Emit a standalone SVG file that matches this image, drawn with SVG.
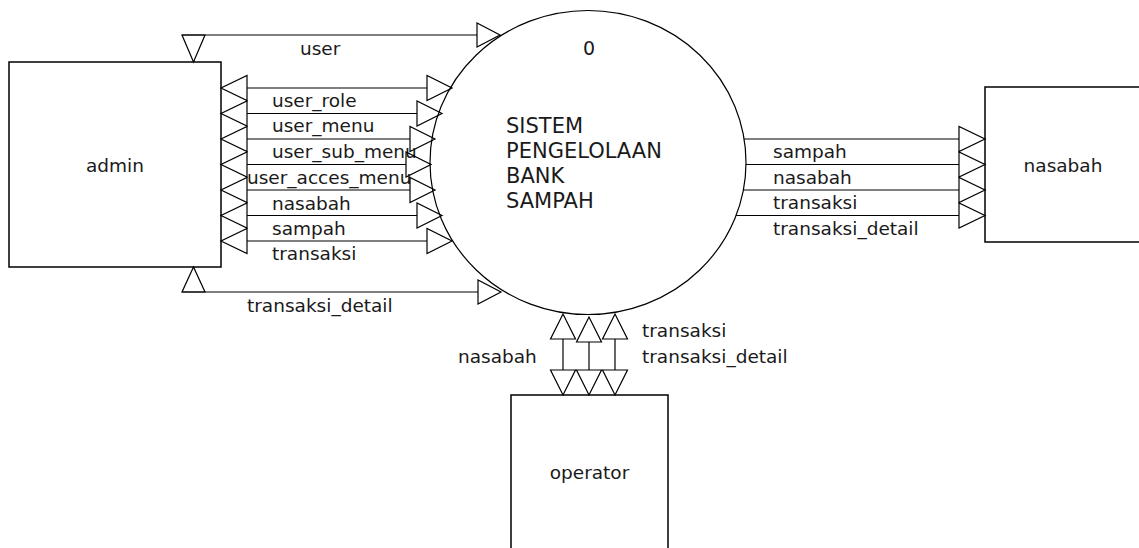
<svg xmlns="http://www.w3.org/2000/svg" width="1139" height="548" viewBox="0 0 1139 548">
<style>
.box{fill:#fff;stroke:#000;stroke-width:1.5}
.ln{fill:none;stroke:#000;stroke-width:1.2}
.ah{fill:none;stroke:#000;stroke-width:1.2;stroke-linejoin:miter}
.lbl{font-family:"DejaVu Sans",sans-serif;font-size:18.5px;fill:#1a1a1a}
.ptx{font-family:"DejaVu Sans",sans-serif;font-size:21px;fill:#1a1a1a}
.mid{text-anchor:middle}
</style>
<rect width="1139" height="548" fill="#fff"/>
<g id="process">
<ellipse cx="588" cy="162.5" rx="158" ry="152" fill="none" stroke="#000" stroke-width="1.2"/>
<text class="lbl mid" x="589" y="55" style="font-size:19px">0</text>
<text class="ptx" x="506" y="133">SISTEM</text>
<text class="ptx" x="506" y="158">PENGELOLAAN</text>
<text class="ptx" x="506" y="183">BANK</text>
<text class="ptx" x="506" y="208">SAMPAH</text>
</g>
<g id="admin">
<rect class="box" x="9" y="62" width="212" height="205"/>
<text class="lbl mid" x="115" y="172">admin</text>
</g>
<g id="nasabah">
<rect class="box" x="985" y="87" width="170" height="155"/>
<text class="lbl mid" x="1063" y="172">nasabah</text>
</g>
<g id="operator">
<rect class="box" x="511" y="395" width="157" height="170"/>
<text class="lbl mid" x="589.5" y="479">operator</text>
</g>
<g id="connectors">
<g id="f-user">
<polyline class="ln" points="182,35 477,35"/>
<polygon class="ah" points="182,35 205,35 193.5,62"/>
<polygon class="ah" points="477,23 477,47 500,35"/>
<text class="lbl" x="300" y="55">user</text>
</g>
<g id="f-transaksi-detail-admin">
<polyline class="ln" points="182,292 478,292"/>
<polygon class="ah" points="182,292 205,292 193.5,267"/>
<polygon class="ah" points="478,280 478,304 501,292"/>
<text class="lbl" x="247" y="312">transaksi_detail</text>
</g>
<g id="f-admin-tables">
<polyline class="ln" points="247,88 427,88"/>
<polygon class="ah" points="247,75.5 247,100.5 221,88"/>
<polygon class="ah" points="427,75.5 427,100.5 452,88"/>
<text class="lbl" x="272" y="107">user_role</text>
<polyline class="ln" points="247,113.5 417,113.5"/>
<polygon class="ah" points="247,101 247,126 221,113.5"/>
<polygon class="ah" points="417,101 417,126 442,113.5"/>
<text class="lbl" x="272" y="132">user_menu</text>
<polyline class="ln" points="247,139 410,139"/>
<polygon class="ah" points="247,126.5 247,151.5 221,139"/>
<polygon class="ah" points="410,126.5 410,151.5 435,139"/>
<text class="lbl" x="272" y="158">user_sub_menu</text>
<polyline class="ln" points="247,164.5 406,164.5"/>
<polygon class="ah" points="247,152 247,177 221,164.5"/>
<polygon class="ah" points="406,152 406,177 431,164.5"/>
<text class="lbl" x="247" y="184">user_acces_menu</text>
<polyline class="ln" points="247,190 410,190"/>
<polygon class="ah" points="247,177.5 247,202.5 221,190"/>
<polygon class="ah" points="410,177.5 410,202.5 435,190"/>
<text class="lbl" x="272" y="210">nasabah</text>
<polyline class="ln" points="247,215.5 417,215.5"/>
<polygon class="ah" points="247,203 247,228 221,215.5"/>
<polygon class="ah" points="417,203 417,228 442,215.5"/>
<text class="lbl" x="272" y="235">sampah</text>
<polyline class="ln" points="247,241 427,241"/>
<polygon class="ah" points="247,228.5 247,253.5 221,241"/>
<polygon class="ah" points="427,228.5 427,253.5 452,241"/>
<text class="lbl" x="272" y="260">transaksi</text>
</g>
<g id="f-nasabah">
<polyline class="ln" points="744,139 959,139"/>
<polygon class="ah" points="959,126.5 959,151.5 985,139"/>
<text class="lbl" x="773" y="158">sampah</text>
<polyline class="ln" points="746,164.5 959,164.5"/>
<polygon class="ah" points="959,152 959,177 985,164.5"/>
<text class="lbl" x="773" y="184">nasabah</text>
<polyline class="ln" points="743,190 959,190"/>
<polygon class="ah" points="959,177.5 959,202.5 985,190"/>
<text class="lbl" x="773" y="209">transaksi</text>
<polyline class="ln" points="736,215.5 959,215.5"/>
<polygon class="ah" points="959,203 959,228 985,215.5"/>
<text class="lbl" x="773" y="235">transaksi_detail</text>
</g>
<g id="f-operator">
<polyline class="ln" points="563,339 563,370"/>
<polygon class="ah" points="550.5,339 575.5,339 563,314"/>
<polygon class="ah" points="550.5,370 575.5,370 563,395"/>
<polyline class="ln" points="589,342 589,370"/>
<polygon class="ah" points="576.5,342 601.5,342 589,317"/>
<polygon class="ah" points="576.5,370 601.5,370 589,395"/>
<polyline class="ln" points="615,339 615,370"/>
<polygon class="ah" points="602.5,339 627.5,339 615,314"/>
<polygon class="ah" points="602.5,370 627.5,370 615,395"/>
<text class="lbl" x="458" y="363">nasabah</text>
<text class="lbl" x="642" y="337">transaksi</text>
<text class="lbl" x="642" y="363">transaksi_detail</text>
</g>
</g>
</svg>
